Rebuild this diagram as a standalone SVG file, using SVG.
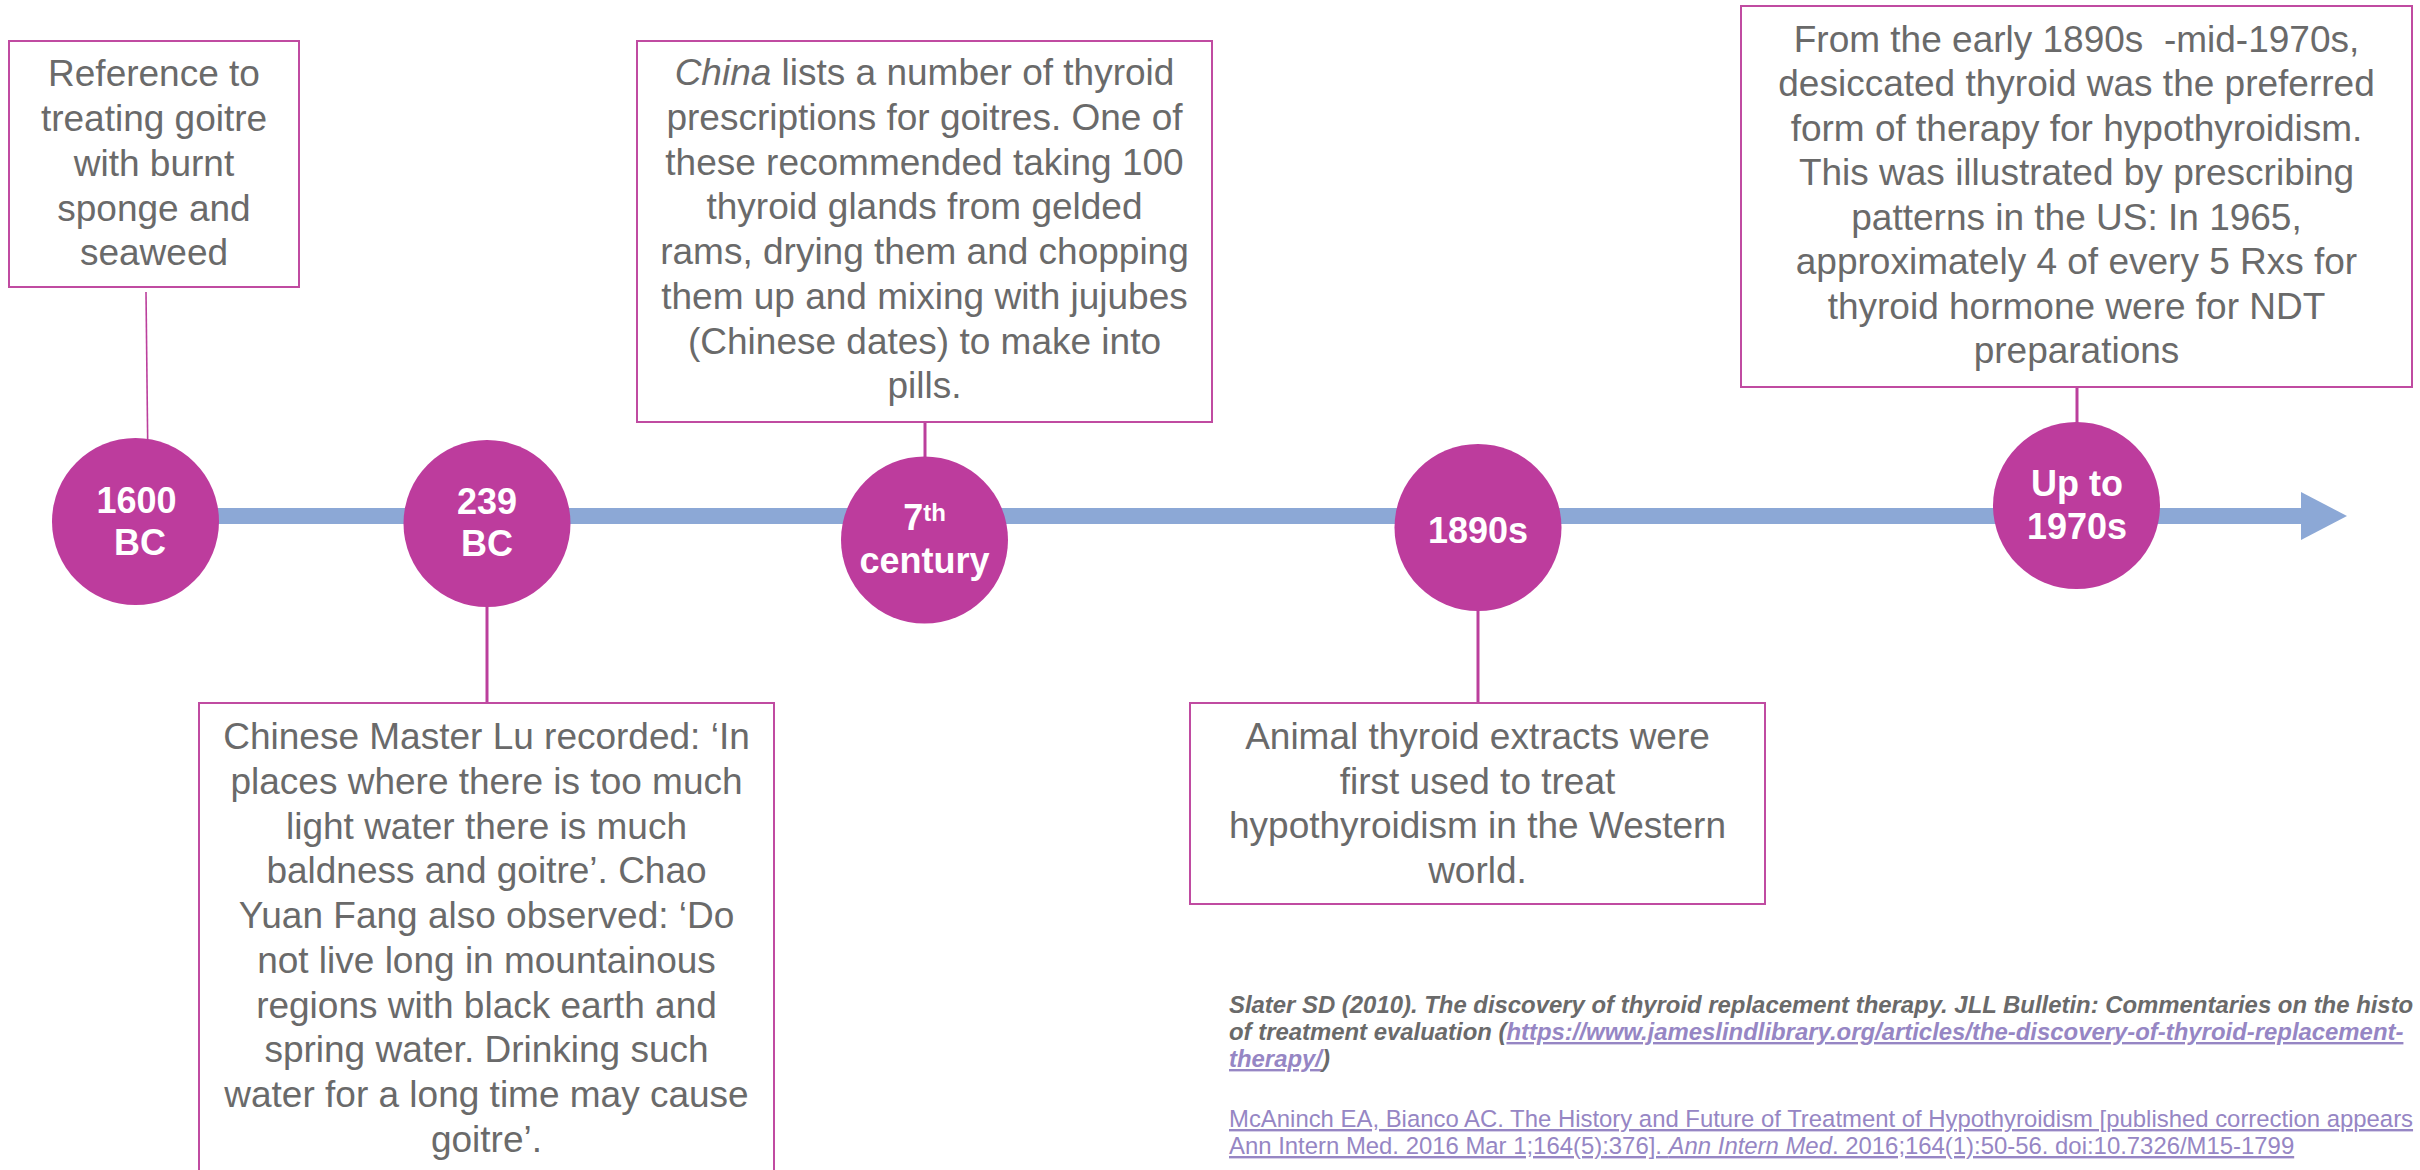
<svg xmlns="http://www.w3.org/2000/svg" width="2420" height="1170" viewBox="0 0 2420 1170">
<style>
.box{fill:#fff;stroke:#C04BA1;stroke-width:2}
.bt{font-family:"Liberation Sans",Arial,sans-serif;font-size:37px;fill:#6a6a6a;text-anchor:middle}
.dot{fill:#BD3C9D}
.dt{font-family:"Liberation Sans",Arial,sans-serif;font-size:36px;font-weight:bold;fill:#fff;text-anchor:middle}
.con{stroke:#BB3F9C;stroke-width:3;fill:none}
.ref{font-family:"Liberation Sans",Arial,sans-serif;font-size:23.9px}
.link{fill:#9686C4;text-decoration:underline}
.gray{fill:#6a6a6a}
</style>
<g id="timeline">
<rect x="136" y="508" width="2166" height="16" fill="#8CA8D6"/>
<polygon points="2301,492 2347,516 2301,540" fill="#8CA8D6"/>
</g>
<g id="connectors">
<line class="con" x1="146" y1="292" x2="148" y2="470" style="stroke-width:1.6"/>
<line class="con" x1="487" y1="600" x2="487" y2="703"/>
<line class="con" x1="925" y1="422" x2="925" y2="460"/>
<line class="con" x1="1478" y1="605" x2="1478" y2="703"/>
<line class="con" x1="2077" y1="378" x2="2077" y2="426"/>
</g>
<g id="box-1600bc">
<rect class="box" x="9" y="41" width="290" height="246"/>
<text class="bt"><tspan x="154" y="86">Reference to</tspan><tspan x="154" y="131">treating goitre</tspan><tspan x="154" y="176">with burnt</tspan><tspan x="154" y="221">sponge and</tspan><tspan x="154" y="265">seaweed</tspan></text>
</g>
<g id="box-7th">
<rect class="box" x="637" y="41" width="575" height="381"/>
<text class="bt"><tspan x="924.5" y="85"><tspan font-style="italic">China</tspan> lists a number of thyroid</tspan><tspan x="924.5" y="130">prescriptions for goitres. One of</tspan><tspan x="924.5" y="175">these recommended taking 100</tspan><tspan x="924.5" y="219">thyroid glands from gelded</tspan><tspan x="924.5" y="264">rams, drying them and chopping</tspan><tspan x="924.5" y="309">them up and mixing with jujubes</tspan><tspan x="924.5" y="354">(Chinese dates) to make into</tspan><tspan x="924.5" y="398">pills.</tspan></text>
</g>
<g id="box-239bc">
<rect class="box" x="199" y="703" width="575" height="475"/>
<text class="bt"><tspan x="486.5" y="749">Chinese Master Lu recorded: ‘In</tspan><tspan x="486.5" y="794">places where there is too much</tspan><tspan x="486.5" y="839">light water there is much</tspan><tspan x="486.5" y="883">baldness and goitre’. Chao</tspan><tspan x="486.5" y="928">Yuan Fang also observed: ‘Do</tspan><tspan x="486.5" y="973">not live long in mountainous</tspan><tspan x="486.5" y="1018">regions with black earth and</tspan><tspan x="486.5" y="1062">spring water. Drinking such</tspan><tspan x="486.5" y="1107">water for a long time may cause</tspan><tspan x="486.5" y="1152">goitre’.</tspan></text>
</g>
<g id="box-1890s">
<rect class="box" x="1190" y="703" width="575" height="201"/>
<text class="bt"><tspan x="1477.5" y="749">Animal thyroid extracts were</tspan><tspan x="1477.5" y="794">first used to treat</tspan><tspan x="1477.5" y="838">hypothyroidism in the Western</tspan><tspan x="1477.5" y="883">world.</tspan></text>
</g>
<g id="box-1970s">
<rect class="box" x="1741" y="6" width="671" height="381"/>
<text class="bt"><tspan x="2076.5" y="52">From the early 1890s&#160; -mid-1970s,</tspan><tspan x="2076.5" y="96">desiccated thyroid was the preferred</tspan><tspan x="2076.5" y="141">form of therapy for hypothyroidism.</tspan><tspan x="2076.5" y="185">This was illustrated by prescribing</tspan><tspan x="2076.5" y="230">patterns in the US: In 1965,</tspan><tspan x="2076.5" y="274">approximately 4 of every 5 Rxs for</tspan><tspan x="2076.5" y="319">thyroid hormone were for NDT</tspan><tspan x="2076.5" y="363">preparations</tspan></text>
</g>
<g id="dot-1600bc">
<circle class="dot" cx="135.5" cy="521.5" r="83.5"/>
<text class="dt"><tspan x="136.5" y="513">1600</tspan><tspan x="140" y="555">BC</tspan></text>
</g>
<g id="dot-239bc">
<circle class="dot" cx="487" cy="523.5" r="83.5"/>
<text class="dt"><tspan x="487" y="514">239</tspan><tspan x="487" y="556">BC</tspan></text>
</g>
<g id="dot-7th">
<circle class="dot" cx="924.5" cy="540" r="83.5"/>
<text class="dt"><tspan x="924.5" y="530">7<tspan font-size="24" dy="-9">th</tspan></tspan><tspan x="924.5" y="573">century</tspan></text>
</g>
<g id="dot-1890s">
<circle class="dot" cx="1478" cy="527.5" r="83.5"/>
<text class="dt" x="1478" y="543">1890s</text>
</g>
<g id="dot-1970s">
<circle class="dot" cx="2076.5" cy="505.5" r="83.5"/>
<text class="dt"><tspan x="2077" y="496">Up to</tspan><tspan x="2077" y="539">1970s</tspan></text>
</g>
<g id="references">
<text class="ref gray" font-size="23.8" font-weight="bold" font-style="italic"><tspan x="1229" y="1013">Slater SD (2010). The discovery of thyroid replacement therapy. JLL Bulletin: Commentaries on the histo</tspan><tspan x="1229" y="1040">of treatment evaluation (<tspan class="link">https://www.jameslindlibrary.org/articles/the-discovery-of-thyroid-replacement-</tspan></tspan><tspan x="1229" y="1067"><tspan class="link">therapy/</tspan>)</tspan></text>
<text class="ref link"><tspan x="1229" y="1127">McAninch EA, Bianco AC. The History and Future of Treatment of Hypothyroidism [published correction appears</tspan><tspan x="1229" y="1154">Ann Intern Med. 2016 Mar 1;164(5):376]. <tspan font-style="italic">Ann Intern Med</tspan>. 2016;164(1):50-56. doi:10.7326/M15-1799</tspan></text>
</g>
</svg>
